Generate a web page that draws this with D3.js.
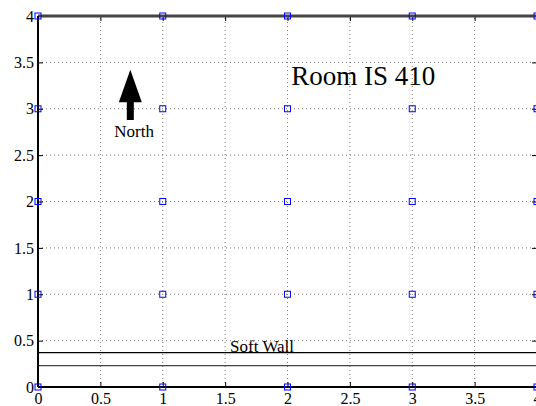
<!DOCTYPE html>
<html>
<head>
<meta charset="utf-8">
<script src="https://cdn.jsdelivr.net/npm/d3@7"></script>
<style>
  body { margin: 0; background: #fff; }
  text { font-family: "Liberation Serif", "Times New Roman", serif; fill: #000; }
  .grid line { stroke: #777; stroke-dasharray: 1,3; stroke-width: 1; }
  .axis text { font-size: 16px; }
  .axis line { stroke: #000; }
</style>
</head>
<body>
<div id="chart"></div>
<script>
// tick values
var xTicks = [0, 0.5, 1, 1.5, 2, 2.5, 3, 3.5, 4];
var yTicks = [0, 0.5, 1, 1.5, 2, 2.5, 3, 3.5, 4];

// measurement points (blue squares)
var pointX = [0, 1, 2, 3, 4];
var pointY = [0, 1, 2, 3, 4];

// soft wall lines
var wallY = [0.37, 0.23];

// annotations
var roomLabel = {x: 2.03, y: 3.26, text: "Room IS 410"};
var wallLabel = {x: 1.54, y: 0.38, text: "Soft Wall"};
var northLabel = {x: 0.77, y: 2.70, text: "North"};
var arrow = {x: 0.74, tip: 3.42, headBase: 3.07, tail: 2.88};

var W = 536, H = 406;
var x = d3.scaleLinear().domain([0, 4]).range([38, 537]);
var y = d3.scaleLinear().domain([0, 4]).range([387, 16]);

var svg = d3.select("#chart").append("svg")
    .attr("width", W)
    .attr("height", H);

//grid
var grid = svg.append("g").attr("class", "grid");
grid.selectAll(".gx").data(xTicks.slice(1, -1)).enter().append("line")
    .attr("x1", d => x(d)).attr("x2", d => x(d))
    .attr("y1", y(0)).attr("y2", y(4));
grid.selectAll(".gy").data(yTicks.slice(1, -1)).enter().append("line")
    .attr("x1", x(0)).attr("x2", x(4))
    .attr("y1", d => y(d)).attr("y2", d => y(d));

// soft wall
svg.selectAll(".wall").data(wallY).enter().append("line")
    .attr("x1", x(0)).attr("x2", x(4))
    .attr("y1", d => y(d)).attr("y2", d => y(d))
    .attr("stroke", (d, i) => i === 0 ? "#000" : "#444")
    .attr("stroke-width", 1.2);

// axes, ticks inward
var fmt = d => String(d);
svg.append("g").attr("class", "axis")
    .attr("transform", "translate(0," + y(0) + ")")
    .call(d3.axisBottom(x).tickValues(xTicks).tickFormat(fmt).tickSizeInner(-5).tickSizeOuter(0).tickPadding(6))
    .call(g => g.select(".domain").remove());
svg.append("g").attr("class", "axis")
    .attr("transform", "translate(0," + y(4) + ")")
    .call(d3.axisTop(x).tickValues(xTicks).tickFormat("").tickSizeInner(-5).tickSizeOuter(0))
    .call(g => g.select(".domain").remove());
svg.append("g").attr("class", "axis")
    .attr("transform", "translate(" + x(0) + ",0)")
    .call(d3.axisLeft(y).tickValues(yTicks).tickFormat(fmt).tickSizeInner(-5).tickSizeOuter(0).tickPadding(4))
    .call(g => g.select(".domain").remove());
svg.append("g").attr("class", "axis")
    .attr("transform", "translate(" + x(4) + ",0)")
    .call(d3.axisRight(y).tickValues(yTicks).tickFormat("").tickSizeInner(-5).tickSizeOuter(0))
    .call(g => g.select(".domain").remove());

// frame / walls
svg.append("line").attr("x1", x(0)).attr("x2", x(4)).attr("y1", y(4)).attr("y2", y(4))
    .attr("stroke", "#444").attr("stroke-width", 3);
svg.append("line").attr("x1", x(0)).attr("x2", x(4)).attr("y1", y(0)).attr("y2", y(0))
    .attr("stroke", "#000").attr("stroke-width", 2);
svg.append("line").attr("x1", x(0)).attr("x2", x(0)).attr("y1", y(0)).attr("y2", y(4))
    .attr("stroke", "#000").attr("stroke-width", 2);
svg.append("line").attr("x1", x(4)).attr("x2", x(4)).attr("y1", y(0)).attr("y2", y(4))
    .attr("stroke", "#000").attr("stroke-width", 1);

// points
var pts = [];
pointY.forEach(function(py){ pointX.forEach(function(px){ pts.push([px, py]); }); });
svg.selectAll(".pt").data(pts).enter().append("rect")
    .attr("x", d => x(d[0]) - 3)
    .attr("y", d => y(d[1]) - 3)
    .attr("width", 6).attr("height", 6)
    .attr("fill", "none")
    .attr("stroke", "#0000ff")
    .attr("stroke-width", 1);

// north arrow
var ax = x(arrow.x);
svg.append("path")
    .attr("d", "M" + ax + "," + y(arrow.tip) +
        "L" + (ax + 11.5) + "," + y(arrow.headBase) +
        "L" + (ax + 3.5) + "," + y(arrow.headBase) +
        "L" + (ax + 3.5) + "," + y(arrow.tail) +
        "L" + (ax - 3.5) + "," + y(arrow.tail) +
        "L" + (ax - 3.5) + "," + y(arrow.headBase) +
        "L" + (ax - 11.5) + "," + y(arrow.headBase) + "Z")
    .attr("fill", "#000");

svg.append("text")
    .attr("x", x(northLabel.x)).attr("y", y(northLabel.y))
    .attr("text-anchor", "middle")
    .style("font-size", "17px")
    .text(northLabel.text);

svg.append("text")
    .attr("x", x(roomLabel.x)).attr("y", y(roomLabel.y))
    .style("font-size", "27px")
    .text(roomLabel.text);

svg.append("text")
    .attr("x", x(wallLabel.x)).attr("y", y(wallLabel.y))
    .style("font-size", "17px")
    .text(wallLabel.text);
</script>
</body>
</html>
